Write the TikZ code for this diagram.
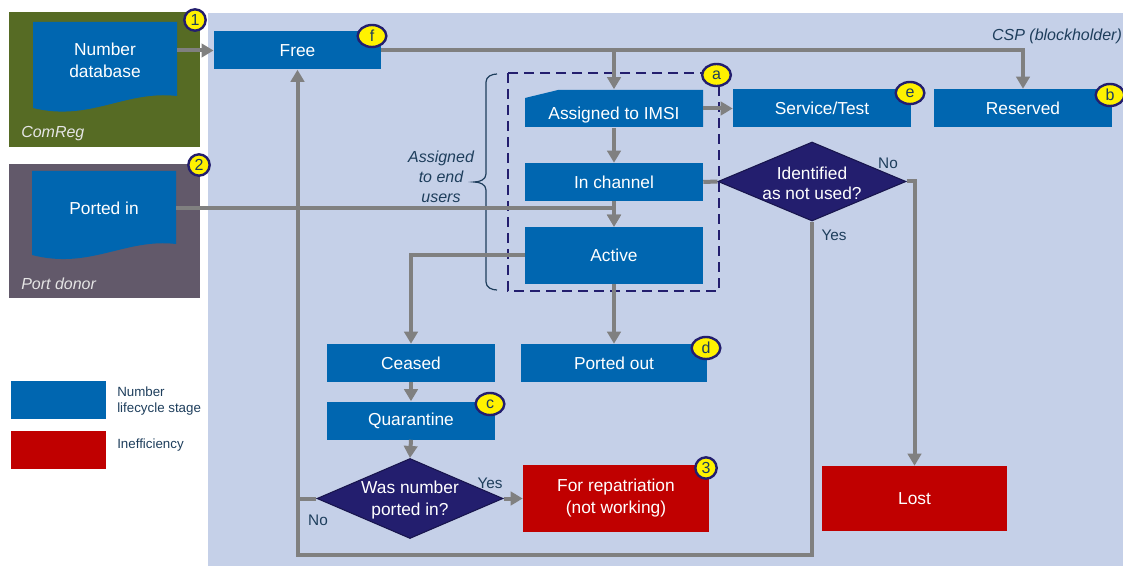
\documentclass[tikz,border=0pt]{standalone}
\usepackage{fontspec}
\setmainfont{Liberation Sans}
\usetikzlibrary{shapes.geometric,arrows.meta}

\definecolor{stageblue}{RGB}{0,102,176}
\definecolor{ineffred}{RGB}{192,0,0}
\definecolor{decnavy}{RGB}{35,30,110}
\definecolor{panelblue}{RGB}{197,208,232}
\definecolor{comgreen}{RGB}{86,107,36}
\definecolor{donorgrey}{RGB}{98,89,106}
\definecolor{flowgrey}{RGB}{128,128,128}
\definecolor{labelink}{RGB}{30,62,92}

\tikzset{
  boxtext/.style={text=white, align=center, font=\fontsize{13}{16.5}\selectfont},
  stage/.style={boxtext, fill=stageblue, minimum height=28.5pt, inner sep=0pt},
  waste/.style={boxtext, fill=ineffred, inner sep=0pt},
  decision/.style={diamond, fill=decnavy, draw=decnavy!70!black, line width=0.8pt, inner sep=0pt},
  owner/.style={anchor=west, inner sep=0pt, text=white!90!black, font=\fontsize{12}{14}\selectfont\itshape},
  note/.style={text=labelink, align=center, font=\fontsize{12}{15}\selectfont\itshape},
  answer/.style={text=labelink, font=\fontsize{11.5}{13}\selectfont},
  legendtext/.style={anchor=west, inner sep=0pt, align=left, text=labelink, font=\fontsize{10}{12}\selectfont},
  flow/.style={draw=flowgrey, line width=3pt, -{Triangle[width=10pt,length=9pt]}},
  joinline/.style={draw=flowgrey, line width=3pt},
  enduser/.style={draw=decnavy, line width=2.2pt, dash pattern=on 7.5pt off 4.5pt},
  bracket/.style={draw=labelink, line width=0.9pt},
  numbadge/.style={circle, fill=yellow, draw=decnavy, line width=1.8pt, inner sep=0pt, minimum size=16pt, text=labelink, font=\fontsize{12}{12}\selectfont},
  letbadge/.style={ellipse, fill=yellow, draw=decnavy, line width=1.8pt, inner sep=0pt, minimum width=21.5pt, minimum height=16.5pt, text=labelink, font=\fontsize{12}{12}\selectfont}
}

\begin{document}
\begin{tikzpicture}[x=0.75pt,y=-0.75pt]
\useasboundingbox (0,0) rectangle (1123,566);
\fill[panelblue] (208,13) rectangle (1123,566);
\fill[comgreen] (9,12) rectangle (200,147);
\fill[donorgrey] (9,164) rectangle (200,298);

% sources
\fill[stageblue] (33,22) -- (177,22) -- (177,96) .. controls (125,90) and (90,122) .. (33,108) -- cycle;
\fill[stageblue] (32,171) -- (176,171) -- (176,244) .. controls (125,238) and (90,270) .. (32,255) -- cycle;
\node[boxtext] (numdb) at (105,60) {Number\\database};
\node[boxtext] (portin) at (104,208) {Ported in};
\node[owner] at (21,134) {ComReg};
\node[owner] at (21,284) {Port donor};
\coordinate (numdbout) at (177,50.5);
\coordinate (portinout) at (176,208);

% stages
\node[stage, minimum width=125.5pt] (free) at (297.5,50.5) {Free};
\node[stage, minimum width=133.5pt] (service) at (822,108.5) {Service/Test};
\node[stage, minimum width=133.5pt] (reserved) at (1023,108) {Reserved};
\fill[stageblue] (525,98) -- (558,90) -- (703,90) -- (703,127) -- (525,127) -- cycle;
\node[stage, fill=none, minimum width=133.5pt] (assigned) at (614,108.5) {};
\node[boxtext] at (614,115) {Assigned to IMSI};
\node[stage, minimum width=133.5pt] (inchan) at (614,182) {In channel};
\node[stage, minimum width=133.5pt, minimum height=42.75pt] (active) at (614,255.5) {Active};
\node[stage, minimum width=126pt] (ceased) at (411,363) {Ceased};
\node[stage, minimum width=126pt] (quar) at (411,420.5) {Quarantine};
\node[stage, minimum width=139.5pt] (portout) at (614,363) {Ported out};
\node[waste, minimum width=139.5pt, minimum height=50pt] (repat) at (616,498.5) {For repatriation\\(not working)};
\node[waste, minimum width=138.75pt, minimum height=48.75pt] (lost) at (914.5,498.5) {Lost};
\node[decision, minimum width=141pt, minimum height=59.25pt] (idq) at (812,181.5) {};
\node[boxtext, font=\fontsize{13}{15}\selectfont] at (812,183) {Identified\\as not used?};
\node[decision, minimum width=139.5pt, minimum height=60pt] (wasq) at (410,498.5) {};
\node[boxtext] at (410,500) {Was number\\ported in?};
\coordinate (loopcorner) at (297.5,555);

% end user group
\draw[enduser] (508,73) rectangle (719,291);
\draw[bracket] (497,290) to[out=180,in=-90] (486,282) -- (486,190) to[out=90,in=0] (474,182)
  to[out=0,in=-90] (486,174) -- (486,82) to[out=90,in=180] (497,74);
\node[note] at (441,177) {Assigned\\to end\\users};

% flows
\draw[flow] (numdbout) -- (free.west);
\draw[flow] (free.east) -| (reserved.north);
\draw[flow] (free.east -| assigned.north) -- (assigned.north);
\draw[flow] (assigned.east) -- (service.west);
\draw[flow] (assigned.south) -- (inchan.north);
\draw[flow] (inchan.south) -- (active.north);
\draw[flow] (portinout) -| (active.north);
\draw[joinline] (inchan.east) -- (idq.west);
\draw[flow] (idq.east) -| (lost.north);
\draw[flow] (idq.south) |- (loopcorner) -- (free.south);
\draw[flow] (active.west) -| (ceased.north);
\draw[flow] (active.south) -- (portout.north);
\draw[flow] (ceased.south) -- (quar.north);
\draw[flow] (quar.south) -- (wasq.north);
\draw[flow] (wasq.east) -- (repat.west);
\draw[joinline] (wasq.west) -- (wasq.west -| loopcorner);

\node[answer] at (888,163) {No};
\node[answer] at (834,235) {Yes};
\node[answer] at (490,483) {Yes};
\node[answer] at (318,520) {No};
\node[note] at (1057,36) {CSP (blockholder)};

% badges
\node[numbadge] at (195,20) {1};
\node[numbadge] at (199,165) {2};
\node[numbadge] at (706,468) {3};
\node[letbadge] at (716.5,75) {a};
\node[letbadge] at (1110,95) {b};
\node[letbadge] at (490,404) {c};
\node[letbadge] at (706,348) {d};
\node[letbadge] at (910,93) {e};
\node[letbadge] at (372,36) {f};

% legend
\node[fill=stageblue, minimum width=71.25pt, minimum height=28.5pt] (legstage) at (58.5,400) {};
\node[fill=ineffred, minimum width=71.25pt, minimum height=28.5pt] (legwaste) at (58.5,450) {};
\node[legendtext] at (117,401) {Number\\lifecycle stage};
\node[legendtext] at (117,445) {Inefficiency};
\end{tikzpicture}
\end{document}
